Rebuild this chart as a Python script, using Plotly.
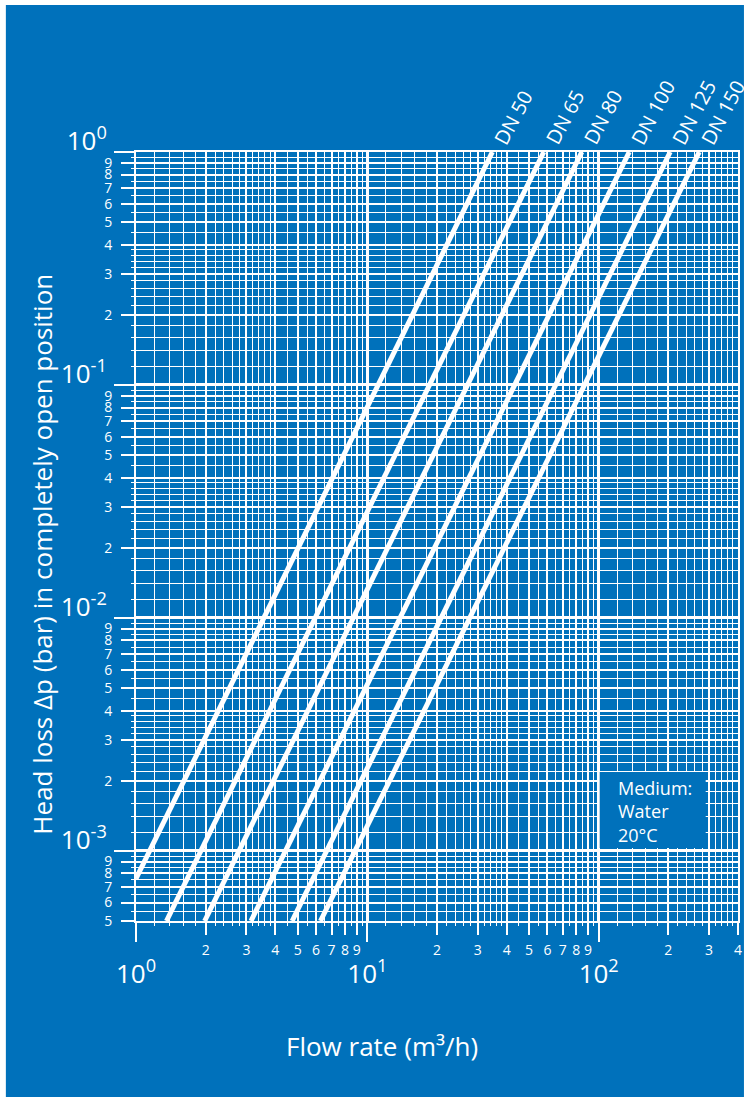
import math
import plotly.graph_objects as go

# ---------------- data ----------------
series_names = ["DN 50", "DN 65", "DN 80", "DN 100", "DN 125", "DN 150"]
# start and end point of each straight (log-log) characteristic
flow_start = [1.0, 1.354, 1.98, 3.14, 4.73, 6.27]          # m3/h
dp_start = [7.6e-4, 5e-4, 5e-4, 5e-4, 5e-4, 5e-4]          # bar
flow_end = [34.7, 57.9, 84.5, 135.5, 203.7, 272.0]         # m3/h
dp_end = [1.0, 1.0, 1.0, 1.0, 1.0, 1.0]                    # bar

x_decades = [1, 10, 100]
x_decade_text = ["10<sup>0</sup>", "10<sup>1</sup>", "10<sup>2</sup>"]
y_decades = [1e-3, 1e-2, 1e-1, 1]
y_decade_text = ["10<sup>-3</sup>", "10<sup>-2</sup>", "10<sup>-1</sup>", "10<sup>0</sup>"]
mantissas = [2, 3, 4, 5, 6, 7, 8, 9]
sub_mantissas = [1.2, 1.4, 1.6, 1.8, 2.2, 2.4, 2.6, 2.8, 3.2, 3.4, 3.6, 3.8,
                 4.5, 5.5, 6.5, 7.5, 8.5, 9.5]

X_MIN, X_MAX = 1, 400
Y_MIN, Y_MAX = 5e-4, 1

BLUE = "#0071BB"
WHITE = "white"
FONT = "Open Sans"


def in_range(v, lo, hi):
    return lo * 0.9999 <= v <= hi * 1.0001


x_major = [m * d for d in x_decades for m in mantissas if in_range(m * d, X_MIN, X_MAX)]
x_major_text = [str(int(round(v / 10 ** math.floor(math.log10(v) + 1e-9)))) for v in x_major]
x_minor = [m * d for d in x_decades for m in sub_mantissas if in_range(m * d, X_MIN, X_MAX)]

y_dec_all = [1e-4, 1e-3, 1e-2, 1e-1]
y_major = [m * d for d in y_dec_all for m in mantissas if in_range(m * d, Y_MIN, Y_MAX)]
y_major_text = [str(int(round(v / 10 ** math.floor(math.log10(v) + 1e-9)))) for v in y_major]
y_minor = [m * d for d in y_dec_all for m in sub_mantissas if in_range(m * d, Y_MIN, Y_MAX)]

fig = go.Figure()

for name, x0, y0, x1, y1 in zip(series_names, flow_start, dp_start, flow_end, dp_end):
    fig.add_trace(go.Scatter(x=[x0, x1], y=[y0, y1], mode="lines", name=name,
                             line=dict(color=WHITE, width=5), showlegend=False,
                             hoverinfo="skip"))

# empty trace for the overlay (decade) axes
fig.add_trace(go.Scatter(x=[], y=[], xaxis="x2", yaxis="y2", showlegend=False))

xr = [math.log10(X_MIN), math.log10(X_MAX)]
yr = [math.log10(Y_MIN), math.log10(Y_MAX)]

common_minor = dict(tickmode="array", showgrid=True, gridcolor=WHITE, gridwidth=1.3,
                    ticks="outside", ticklen=3, tickcolor=WHITE, tickwidth=1)

fig.update_layout(
    width=753, height=1102,
    margin=dict(l=136, r=11, t=152, b=181),
    paper_bgcolor=WHITE,
    plot_bgcolor="rgba(0,0,0,0)",
    font=dict(family=FONT, color=WHITE),
    xaxis=dict(type="log", range=xr, tickmode="array", tickvals=x_major, ticktext=x_major_text,
               showgrid=True, gridcolor=WHITE, gridwidth=2,
               ticks="outside", ticklen=12, tickwidth=2, tickcolor=WHITE,
               tickfont=dict(size=14, color=WHITE, family=FONT),
               ticklabelstandoff=3,
               showline=True, linecolor=WHITE, linewidth=2, mirror=True,
               zeroline=False,
               minor=dict(tickvals=x_minor, **common_minor)),
    yaxis=dict(type="log", range=yr, tickmode="array", tickvals=y_major, ticktext=y_major_text,
               showgrid=True, gridcolor=WHITE, gridwidth=2,
               ticks="outside", ticklen=13, tickwidth=2, tickcolor=WHITE,
               tickfont=dict(size=14, color=WHITE, family=FONT),
               ticklabelstandoff=6,
               showline=True, linecolor=WHITE, linewidth=2, mirror=True,
               zeroline=False,
               minor=dict(tickvals=y_minor, **common_minor)),
    xaxis2=dict(type="log", range=xr, overlaying="x", anchor="y", side="bottom",
                tickmode="array", tickvals=x_decades, ticktext=x_decade_text,
                showgrid=True, gridcolor=WHITE, gridwidth=3,
                ticks="outside", ticklen=20, tickwidth=2, tickcolor=WHITE,
                tickfont=dict(size=26, color=WHITE, family=FONT),
                ticklabelstandoff=10, showline=False, zeroline=False),
    yaxis2=dict(type="log", range=yr, overlaying="y", anchor="x", side="left",
                tickmode="array", tickvals=y_decades, ticktext=y_decade_text,
                showgrid=True, gridcolor=WHITE, gridwidth=3,
                ticks="outside", ticklen=21, tickwidth=2, tickcolor=WHITE,
                tickfont=dict(size=26, color=WHITE, family=FONT),
                ticklabelshift=-11, ticklabelstandoff=2, showline=False, zeroline=False),
)

# blue page background with a thin white border
plot_w = 753 - 136 - 11
plot_h = 1102 - 152 - 181
fig.add_shape(type="rect", xref="paper", yref="paper", layer="below",
              x0=(5 - 136) / plot_w, x1=(748 - 136) / plot_w,
              y0=(921 - 1097) / plot_h, y1=(921 - 5) / plot_h,
              fillcolor=BLUE, line=dict(width=0))

# "Medium" box
fig.add_shape(type="rect", xref="x", yref="y", layer="above",
              x0=101, x1=290, y0=0.00103, y1=0.00218,
              fillcolor=BLUE, line=dict(width=0))
fig.add_annotation(xref="x", yref="y", x=math.log10(119), y=-2.831,
                   xanchor="left", yanchor="middle", align="left", showarrow=False,
                   text="Medium:<br>Water<br>20°C",
                   font=dict(size=18, color=WHITE, family=FONT))

# DN labels at the upper end of each line
ANG = 62
LABEL_SIZE = 20
for name, x1, y1 in zip(series_names, flow_end, dp_end):
    width = 0.57 * LABEL_SIZE * len(name)
    along = 12 + width / 2
    perp = 2
    c, s = math.cos(math.radians(ANG)), math.sin(math.radians(ANG))
    fig.add_annotation(xref="x", yref="y", x=math.log10(x1), y=math.log10(y1),
                       text=name, textangle=-ANG, showarrow=False,
                       xanchor="center", yanchor="middle",
                       xshift=along * c + perp * s, yshift=along * s - perp * c,
                       font=dict(size=LABEL_SIZE, color=WHITE, family=FONT))

# axis titles
fig.add_annotation(xref="paper", yref="paper", x=(384 - 136) / plot_w, y=(921 - 1046) / plot_h,
                   xanchor="center", yanchor="middle", showarrow=False,
                   text="Flow rate (m³/h)", font=dict(size=26, color=WHITE, family=FONT))
fig.add_annotation(xref="paper", yref="paper", x=(41 - 136) / plot_w, y=(921 - 554) / plot_h,
                   xanchor="center", yanchor="middle", showarrow=False, textangle=-90,
                   text="Head loss Δp (bar) in completely open position",
                   font=dict(size=26, color=WHITE, family=FONT))

fig.write_html("out.html")
